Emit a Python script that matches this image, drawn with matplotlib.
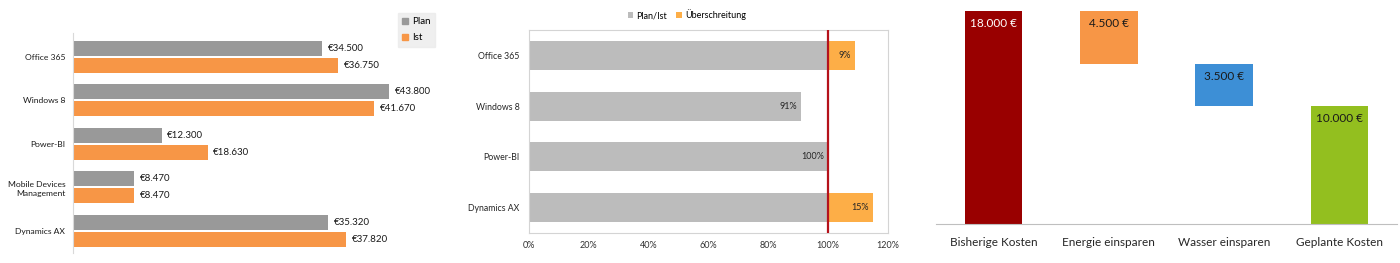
import matplotlib
matplotlib.use("Agg")
import matplotlib.pyplot as plt
from matplotlib.patches import Patch
import numpy as np

plt.rcParams['font.family'] = ['Lato', 'DejaVu Sans']

W, H = 1400, 263

# ---------------- data ----------------
p1_categories = ["Office 365", "Windows 8", "Power-BI", "Mobile Devices\nManagement", "Dynamics AX"]
p1_plan = [34500, 43800, 12300, 8470, 35320]
p1_ist = [36750, 41670, 18630, 8470, 37820]

p2_categories = ["Office 365", "Windows 8", "Power-BI", "Dynamics AX"]
p2_planist = [1.00, 0.91, 1.00, 1.00]
p2_over = [0.09, 0.0, 0.0, 0.15]
p2_planist_labels = ["", "91%", "100%", ""]
p2_over_labels = ["9%", "", "", "15%"]
p2_ticks = [0, 0.2, 0.4, 0.6, 0.8, 1.0, 1.2]

p3_categories = ["Bisherige Kosten", "Energie einsparen", "Wasser einsparen", "Geplante Kosten"]
p3_values = [18000, -4500, -3500, 10000]
p3_is_total = [True, False, False, True]
p3_colors = ["#990000", "#f79646", "#3d8fd6", "#93bf1f"]
p3_text_colors = ["white", "#1a1a1a", "#1a1a1a", "#1a1a1a"]

fig = plt.figure(figsize=(W / 100, H / 100), dpi=100)


def rect(x0, y0, x1, y1):
    return [x0 / W, 1 - y1 / H, (x1 - x0) / W, (y1 - y0) / H]


def eur_dot(v):
    return f"{v:,.0f}".replace(",", ".")

# ---------------- panel 1 ----------------
GRAY1 = "#999999"
ORANGE1 = "#f79646"
ax1 = fig.add_axes(rect(73, 33, 460, 253))
y = np.arange(len(p1_categories))
off = 0.196
h = 0.346
ax1.barh(y - off, p1_plan, height=h, color=GRAY1, label="Plan")
ax1.barh(y + off, p1_ist, height=h, color=ORANGE1, label="Ist")
for yi, v in zip(y - off, p1_plan):
    ax1.annotate("€" + eur_dot(v), (v, yi), xytext=(4, 0), textcoords="offset points",
                 ha="left", va="center", fontsize=7, color="#1a1a1a")
for yi, v in zip(y + off, p1_ist):
    ax1.annotate("€" + eur_dot(v), (v, yi), xytext=(4, 0), textcoords="offset points",
                 ha="left", va="center", fontsize=7, color="#1a1a1a")
ax1.set_xlim(0, 53600)
ax1.set_ylim(4.516, -0.553)
ax1.set_yticks(y)
ax1.set_yticklabels(p1_categories, fontsize=6.1, color="#1a1a1a", linespacing=1.35)
ax1.set_xticks([])
ax1.tick_params(axis="y", length=0, pad=5.5)
for s in ["top", "right", "bottom"]:
    ax1.spines[s].set_visible(False)
ax1.spines["left"].set_color("#d9d9d9")
ax1.patch.set_visible(False)
leg1 = fig.legend(handles=[Patch(color=GRAY1, label="Plan"), Patch(color=ORANGE1, label="Ist")],
                  loc="upper left", bbox_to_anchor=(398 / W, 1 - 13 / H), fontsize=7,
                  frameon=True, fancybox=False, handlelength=0.6, handleheight=0.6,
                  handletextpad=0.4, labelspacing=0.7, borderpad=0.45, borderaxespad=0)
leg1.get_frame().set_facecolor("#ebebeb")
leg1.get_frame().set_edgecolor("#ebebeb")

# ---------------- panel 2 ----------------
GRAY2 = "#bcbcbc"
ORANGE2 = "#fdae47"
RED2 = "#b5121b"
ax2 = fig.add_axes(rect(529, 30, 888, 233))
y2 = np.arange(len(p2_categories))
ax2.barh(y2, p2_planist, height=0.57, color=GRAY2, label="Plan/Ist")
ax2.barh(y2, p2_over, left=p2_planist, height=0.57, color=ORANGE2, label="Überschreitung")
for yi, v, lab in zip(y2, p2_planist, p2_planist_labels):
    if lab:
        ax2.annotate(lab, (v, yi), xytext=(-3, 0), textcoords="offset points",
                     ha="right", va="center", fontsize=6.5, color="#262626")
for yi, b, v, lab in zip(y2, p2_planist, p2_over, p2_over_labels):
    if lab:
        ax2.annotate(lab, (b + v, yi), xytext=(-3, 0), textcoords="offset points",
                     ha="right", va="center", fontsize=6.5, color="#262626")
ax2.axvline(1.0, color=RED2, lw=1.6, zorder=5)
ax2.set_xlim(0, 1.2)
ax2.set_ylim(3.5, -0.5)
ax2.set_xticks(p2_ticks)
ax2.set_xticklabels([f"{int(round(t * 100))}%" for t in p2_ticks], fontsize=6.5, color="#333333")
ax2.set_yticks(y2)
ax2.set_yticklabels(p2_categories, fontsize=6.3, color="#262626")
ax2.tick_params(length=0)
ax2.tick_params(axis="y", pad=7)
ax2.tick_params(axis="x", pad=6)
for s in ax2.spines.values():
    s.set_color("#d4d4d4")
ax2.legend(loc="center", bbox_to_anchor=(687 / W, 1 - 15 / H), bbox_transform=fig.transFigure,
           ncol=2, fontsize=6.5, frameon=False, handlelength=0.6, handleheight=0.6,
           handletextpad=0.4, columnspacing=1.0)

# ---------------- panel 3 ----------------
ax3 = fig.add_axes(rect(936, 11, 1397, 224))
x3 = np.arange(len(p3_categories))
bottoms, heights = [], []
running = 0
for v, tot in zip(p3_values, p3_is_total):
    if tot:
        bottoms.append(0)
        heights.append(v)
        running = v
    else:
        running_new = running + v
        bottoms.append(min(running, running_new))
        heights.append(abs(v))
        running = running_new
ax3.bar(x3, heights, bottom=bottoms, width=0.5, color=p3_colors, clip_on=False)
for xi, b, hh, tc in zip(x3, bottoms, heights, p3_text_colors):
    ax3.annotate(eur_dot(hh) + " €", (xi, b + hh), xytext=(0, -9), textcoords="offset points",
                 ha="center", va="center", fontsize=8.5, color=tc)
ax3.set_xlim(-0.5, 3.5)
ax3.set_ylim(0, 18000)
ax3.set_yticks([])
ax3.set_xticks(x3)
ax3.set_xticklabels(p3_categories, fontsize=8.5, color="#262626")
ax3.tick_params(axis="x", length=0, pad=9)
for s in ["top", "right", "left"]:
    ax3.spines[s].set_visible(False)
ax3.spines["bottom"].set_color("#bfbfbf")
ax3.patch.set_visible(False)

fig.savefig("out.png", dpi=100, facecolor="white")
